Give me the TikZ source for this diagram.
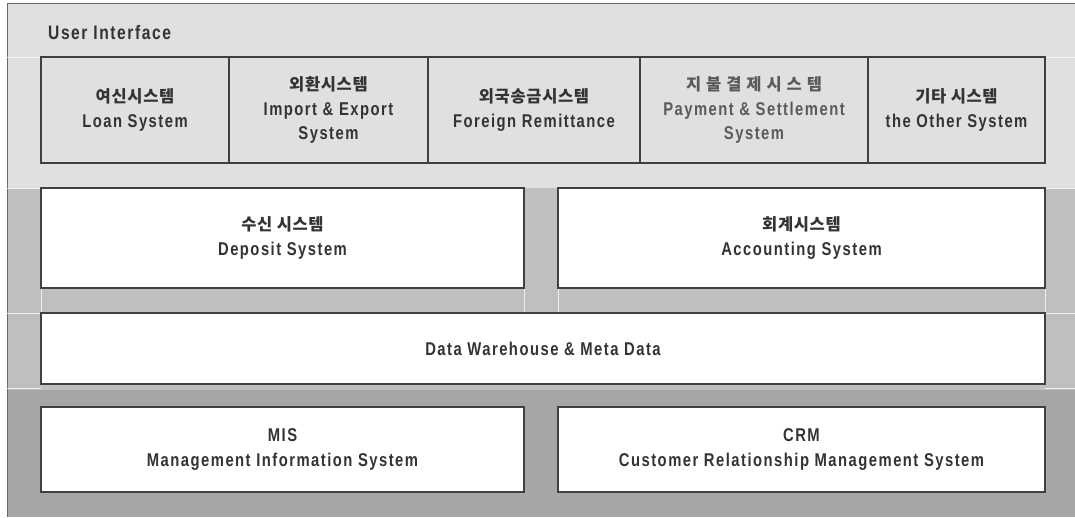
\documentclass[tikz,border=0pt]{standalone}
\usepackage{fontspec}
\setmainfont{Liberation Sans}[FakeStretch=0.8, LetterSpace=8]
\newfontfamily\kr{Noto Sans CJK KR}[LetterSpace=4]
\newfontfamily\krwide{Noto Sans CJK KR}[LetterSpace=30]
\newcommand\boxfont{\bfseries\fontsize{18.5}{24.5}\selectfont}
\newcommand\titlefont{\bfseries\fontsize{19.5}{24}\selectfont}
\newcommand\hangul{\kr\bfseries\fontsize{16.5}{24.5}\selectfont}
\newcommand\hangulwide{\krwide\bfseries\fontsize{16.5}{24.5}\selectfont}
\definecolor{bandA}{HTML}{E0E0E0}
\definecolor{bandB}{HTML}{BFBFBF}
\definecolor{bandC}{HTML}{A6A6A6}
\definecolor{boxline}{HTML}{404040}
\definecolor{frameline}{HTML}{6A6A6A}
\definecolor{txt}{HTML}{333333}
\definecolor{txtsoft}{HTML}{5A5A5A}
\tikzset{
  sysbox/.style={draw=boxline, line width=1.3pt, inner sep=0pt, align=center,
                 text=txt, font=\boxfont},
  uibox/.style={sysbox, fill=bandA, minimum height=106pt},
  corebox/.style={sysbox, fill=white},
  seam/.style={draw=white, line width=0.8pt, opacity=0.75}
}
\begin{document}
\begin{tikzpicture}[x=1pt, y=-1pt]
\useasboundingbox (0,0) rectangle (1075,517);

% layer bands
\fill[bandA] (7,3) rectangle (1075,188);
\fill[bandB] (7,188) rectangle (1075,390);
\fill[bandC] (7,390) rectangle (1075,517);

% outer frame
\draw[frameline, line width=1pt] (7,517) -- (7,3) -- (1075,3);

% faint seams between the layer shapes
\draw[seam] (7,57) -- (41,57) (1045,57) -- (1075,57);
\draw[seam] (7,188) -- (41,188) (1045,188) -- (1075,188);
\draw[seam] (7,313) -- (41,313) (1045,313) -- (1075,313);
\draw[seam] (7,388) -- (41,388) (1045,388) -- (1075,388);
\draw[seam] (41,288) -- (41,313) (524,288) -- (524,313)
            (558,288) -- (558,313) (1045,288) -- (1045,313);

% user interface layer
\node[anchor=base west, inner sep=0pt, text=txt, font=\titlefont] (ui) at (48,39) {User Interface};

\node[uibox, minimum width=188pt] (loan) at (135,110)
  {{\hangul 여신시스템}\\Loan System};
\node[uibox, minimum width=199pt] (trade) at (328.5,110)
  {{\hangul 외환시스템}\\Import \& Export\\System};
\node[uibox, minimum width=212pt] (remit) at (534,110)
  {{\hangul 외국송금시스템}\\Foreign Remittance};
\node[uibox, minimum width=228pt, text=txtsoft] (pay) at (754,110)
  {{\hangulwide 지불결제시스템}\\Payment \& Settlement\\System};
\node[uibox, minimum width=177pt] (other) at (956.5,110)
  {{\hangul 기타 시스템}\\the Other System};

% core systems
\node[corebox, minimum width=483pt, minimum height=100pt] (deposit) at (282.5,238)
  {{\hangul 수신 시스템}\\Deposit System};
\node[corebox, minimum width=487pt, minimum height=100pt] (acct) at (801.5,238)
  {{\hangul 회계시스템}\\Accounting System};

% data layer
\node[corebox, minimum width=1004pt, minimum height=71pt] (dw) at (543,348.5)
  {Data Warehouse \& Meta Data};

% analytical systems
\node[corebox, minimum width=483pt, minimum height=85pt] (mis) at (282.5,449.5)
  {MIS\\Management Information System};
\node[corebox, minimum width=487pt, minimum height=85pt] (crm) at (801.5,449.5)
  {CRM\\Customer Relationship Management System};
\end{tikzpicture}
\end{document}
